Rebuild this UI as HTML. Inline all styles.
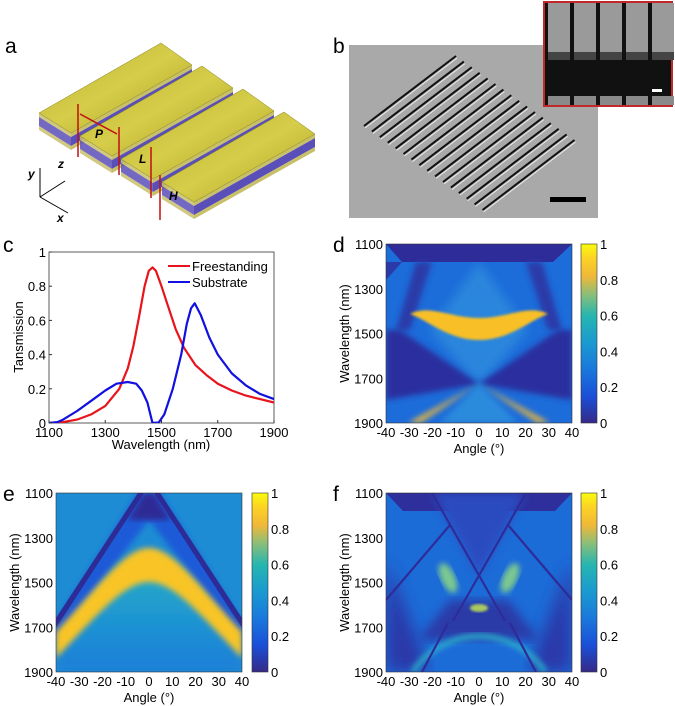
<!DOCTYPE html>
<html><head><meta charset="utf-8"><style>
body{margin:0;background:#fff;}
svg{display:block;font-family:"Liberation Sans",Arial,sans-serif;}
</style></head><body>
<svg id="fig" width="675" height="706" viewBox="0 0 675 706">
<defs>
<linearGradient id="parula" x1="0" y1="1" x2="0" y2="0">
<stop offset="0" stop-color="#352a87"/><stop offset="0.15" stop-color="#1a4fd8"/><stop offset="0.3" stop-color="#1a78dc"/><stop offset="0.45" stop-color="#1a9ad0"/><stop offset="0.6" stop-color="#26b6b0"/><stop offset="0.72" stop-color="#8cbe78"/><stop offset="0.82" stop-color="#f0b838"/><stop offset="0.92" stop-color="#fcd224"/><stop offset="1" stop-color="#f9fb0e"/>
</linearGradient>
<linearGradient id="gold" x1="0" y1="0" x2="1" y2="1"><stop offset="0" stop-color="#b8b030"/><stop offset="0.5" stop-color="#d6cd4a"/><stop offset="1" stop-color="#a89e20"/></linearGradient>
<linearGradient id="egrad" x1="0" y1="0" x2="0" y2="1"><stop offset="0" stop-color="#2ab0c0"/><stop offset="0.5" stop-color="#1f96d2"/><stop offset="1" stop-color="#1c7ed8"/></linearGradient>
<clipPath id="cd"><rect x="386" y="244" width="186" height="179"/></clipPath>
<clipPath id="ce"><rect x="56" y="493" width="186" height="179"/></clipPath>
<clipPath id="cf"><rect x="386" y="493" width="186" height="179"/></clipPath>
<clipPath id="cc"><rect x="49" y="252" width="225" height="171"/></clipPath>
<filter id="blur3"><feGaussianBlur stdDeviation="3"/></filter>
<filter id="blur5"><feGaussianBlur stdDeviation="5"/></filter>
<filter id="blur8"><feGaussianBlur stdDeviation="8"/></filter>
<filter id="blur1"><feGaussianBlur stdDeviation="1.2"/></filter>
</defs>

<g font-size="21" fill="#000">
<text x="5" y="53">a</text>
<text x="333" y="53">b</text>
<text x="3" y="252">c</text>
<text x="333" y="252">d</text>
<text x="3" y="501">e</text>
<text x="333" y="501">f</text>
</g>

<g id="schem"></g>

<g>
<rect x="349" y="45" width="249" height="173" fill="#a9a9a9"/>
<g id="semlines"></g>
<rect x="550" y="197" width="36" height="5" fill="#000"/>
<g>
<rect x="544" y="2" width="128" height="104" fill="#111" stroke="#c0282a" stroke-width="2"/>
<g id="insetcols"></g>
<rect x="652" y="89" width="10" height="3" fill="#fff"/>
</g>
</g>

<g id="pc">
<rect x="49" y="252" width="225" height="171" fill="#fff" stroke="#333" stroke-width="0.8"/>
<g id="cseries" clip-path="url(#cc)"></g>
<g id="caxes" font-size="13"></g>
<g font-size="13">
<line x1="168" y1="266" x2="190" y2="266" stroke="#e8141c" stroke-width="2"/>
<text x="192" y="271">Freestanding</text>
<line x1="168" y1="282" x2="190" y2="282" stroke="#1010e0" stroke-width="2"/>
<text x="192" y="287">Substrate</text>
</g>
<text x="161" y="449" text-anchor="middle" font-size="13">Wavelength (nm)</text>
<text transform="translate(23,337) rotate(-90)" text-anchor="middle" font-size="13">Tansmission</text>
</g>

<g>
<g clip-path="url(#cd)">
<rect x="386" y="244" width="186" height="179" fill="#1c6cda"/>
<polygon points="479,262 430,330 479,385 528,330" fill="#2a86dc" filter="url(#blur5)"/>
<polygon points="386,244 572,244 553,262 402,262" fill="#2e2c98"/>
<polygon points="386,262 402,262 386,280" fill="#2b3aa8"/>
<polygon points="416,262 432,262 410,330 396,330" fill="#2b3aa8" filter="url(#blur3)"/>
<polygon points="542,262 526,262 548,330 562,330" fill="#2b3aa8" filter="url(#blur3)"/>
<polygon points="386,330 400,330 479,384 386,400" fill="#2a2f9e" filter="url(#blur3)"/>
<polygon points="572,330 558,330 479,384 572,400" fill="#2a2f9e" filter="url(#blur3)"/>
<path d="M410,314 C430,304 450,318 479,318 C508,318 528,304 548,314 C530,320 510,340 479,340 C448,340 428,320 410,314 Z" fill="#f8c028" filter="url(#blur1)"/>
<path d="M479,384 L420,423 L408,423 Z" fill="#f0b838" filter="url(#blur3)"/>
<path d="M479,384 L538,423 L550,423 Z" fill="#f0b838" filter="url(#blur3)"/>
<polygon points="479,384 440,423 518,423" fill="#2a8adc" filter="url(#blur3)"/>
</g>
<rect x="386" y="244" width="186" height="179" fill="none" stroke="#333" stroke-width="0.6"/>
</g>

<g>
<g clip-path="url(#ce)">
<rect x="56" y="493" width="186" height="179" fill="#1e8cd4"/>
<path d="M56,630 C100,590 125,560 149,560 C173,560 198,590 242,630 L242,672 L56,672 Z" fill="url(#egrad)" filter="url(#blur5)"/>
<polygon points="138,493 160,493 242,622 242,640 149,520 56,640 56,622" fill="#1a5ad8" filter="url(#blur3)"/>
<path d="M138,493 L56,618 L56,628 L144,493 Z M160,493 L242,618 L242,628 L154,493 Z" fill="#2d2b95"/>
<path d="M144,493 L154,493 L170,520 L128,520 Z" fill="#2d2b95" filter="url(#blur3)"/>
<path d="M56,632 C100,585 125,548 149,548 C173,548 198,585 242,632 L242,658 C198,612 173,582 149,582 C125,582 100,612 56,658 Z" fill="#f8c428" filter="url(#blur3)"/>
</g>
<rect x="56" y="493" width="186" height="179" fill="none" stroke="#333" stroke-width="0.6"/>
</g>

<g>
<g clip-path="url(#cf)">
<rect x="386" y="493" width="186" height="179" fill="#1c6cd8"/>
<polygon points="386,560 386,672 430,672" fill="#2a38a8" filter="url(#blur8)"/>
<polygon points="572,560 572,672 528,672" fill="#2a38a8" filter="url(#blur8)"/>
<polygon points="386,493 572,493 555,511 403,511" fill="#2e2e9c"/>
<polygon points="432,493 526,493 479,576" fill="#2a4cc0" filter="url(#blur5)"/>
<polygon points="450,600 508,600 540,640 418,640" fill="#2a3aa8" filter="url(#blur5)"/>
<path d="M413,672 C430,645 460,636 479,636 C498,636 528,645 545,672" fill="none" stroke="#2ab0c8" stroke-width="5" filter="url(#blur3)"/>
<g stroke-width="2.2" fill="none" stroke="#2e2c98">
<path d="M432,493 L505,621 M526,493 L453,621"/>
<path d="M450,525 L386,600 M508,525 L572,600"/>
<path d="M448,623 L422,672 M510,623 L536,672"/>
</g>
<ellipse cx="448" cy="578" rx="7" ry="16" transform="rotate(-25 448 578)" fill="#7cc890" filter="url(#blur3)"/>
<ellipse cx="510" cy="578" rx="7" ry="16" transform="rotate(25 510 578)" fill="#7cc890" filter="url(#blur3)"/>
<ellipse cx="479" cy="608" rx="9" ry="4" fill="#a8c860" filter="url(#blur1)"/>
</g>
<rect x="386" y="493" width="186" height="179" fill="none" stroke="#333" stroke-width="0.6"/>
</g>

<g id="hmaxes" font-size="13"></g>
</svg>
<script>
var redWl  = [1100,1150,1200,1250,1300,1350,1380,1400,1420,1440,1455,1468,1480,1500,1520,1550,1580,1620,1660,1700,1750,1800,1850,1900];
var redT   = [0,0.005,0.02,0.05,0.1,0.2,0.32,0.45,0.62,0.8,0.89,0.91,0.89,0.8,0.7,0.55,0.44,0.34,0.28,0.23,0.19,0.16,0.14,0.12];
var blueWl = [1100,1130,1150,1200,1250,1300,1340,1380,1410,1430,1450,1462,1468,1490,1510,1540,1570,1590,1605,1618,1640,1670,1700,1750,1800,1850,1900];
var blueT  = [0,0.005,0.02,0.07,0.13,0.19,0.23,0.24,0.23,0.19,0.12,0.04,0,0.003,0.05,0.2,0.4,0.58,0.67,0.70,0.63,0.5,0.4,0.29,0.22,0.17,0.14];
var cXTicks = [1100,1300,1500,1700,1900];
var cYTicks = [0,0.2,0.4,0.6,0.8,1];
var cYLabels = ["0","0.2","0.4","0.6","0.8","1"];
var angleTicks = [-40,-30,-20,-10,0,10,20,30,40];
var wlTicks = [1100,1300,1500,1700,1900];
var cbTicks = [0,0.2,0.4,0.6,0.8,1];
var cbLabels = ["0","0.2","0.4","0.6","0.8","1"];

var NS="http://www.w3.org/2000/svg";
function mk(tag,attrs,parent){var e=document.createElementNS(NS,tag);for(var k in attrs)e.setAttribute(k,attrs[k]);parent.appendChild(e);return e;}
function cx(w){return 49+(w-1100)*225/800;}
function cy(t){return 423-t*171;}

var cs=document.getElementById('cseries');
function line(xs,ys,color,name){
  var d=xs.map(function(w,i){return (i?'L':'M')+cx(w).toFixed(1)+','+cy(ys[i]).toFixed(1);}).join(' ');
  var p=mk('path',{d:d,fill:'none',stroke:color,'stroke-width':2.2,'stroke-linejoin':'round'},cs);
  
  
}
line(redWl,redT,'#e8141c','series-freestanding');
line(blueWl,blueT,'#1010e0','series-substrate');

var ca=document.getElementById('caxes');
cXTicks.forEach(function(w){
  mk('line',{x1:cx(w),y1:423,x2:cx(w),y2:420,stroke:'#333'},ca);
  var t=mk('text',{x:cx(w),y:437,'text-anchor':'middle'},ca);t.textContent=w;
  
  
});
cYTicks.forEach(function(v,i){
  mk('line',{x1:49,y1:cy(v),x2:52,y2:cy(v),stroke:'#333'},ca);
  var t=mk('text',{x:46,y:cy(v)+5,'text-anchor':'end'},ca);t.textContent=cYLabels[i];
  
  
});

var hm=document.getElementById('hmaxes');
function hmAxes(x0,y0,cbx,tag){
  var W=186,H=179;
  angleTicks.forEach(function(a){
    var x=x0+W/2+a*W/80;
    var t=mk('text',{x:x,y:y0+H+14,'text-anchor':'middle'},hm);t.textContent=a;
    
    
  });
  wlTicks.forEach(function(w){
    var y=y0+(w-1100)*H/800;
    var t=mk('text',{x:x0-3,y:y+5,'text-anchor':'end'},hm);t.textContent=w;
    
    
  });
  var at=mk('text',{x:x0+W/2,y:y0+H+30,'text-anchor':'middle'},hm);at.textContent='Angle (°)';
  
  
  var yt=mk('text',{transform:'translate('+(x0-37)+','+(y0+H/2)+') rotate(-90)','text-anchor':'middle'},hm);yt.textContent='Wavelength (nm)';
  
  
  var cb=mk('rect',{x:cbx,y:y0,width:16,height:H,fill:'url(#parula)',stroke:'#333','stroke-width':0.6},hm);
  
  
  cbTicks.forEach(function(v,i){
    var y=y0+H-v*H;
    var t=mk('text',{x:cbx+19,y:y+5},hm);t.textContent=cbLabels[i];
    
    
  });
}
hmAxes(386,244,581,'d');
hmAxes(56,493,252,'e');
hmAxes(386,493,581,'f');

var sc=document.getElementById('schem');
for(var b=0;b<4;b++){
  var dx=b*41,dy=b*23;
  var A=[39+dx,113+dy],B=[161+dx,43+dy],C=[192+dx,65+dy],D=[71+dx,133+dy];
  var th=[[0,4,'#c8c068'],[4,13,'#5a4fb8'],[13,17,'#c8c068']];
  th.forEach(function(l){
    mk('polygon',{points:[D[0],D[1]+l[0],C[0],C[1]+l[0],C[0],C[1]+l[1],D[0],D[1]+l[1]].join(','),fill:l[2]},sc);
    mk('polygon',{points:[A[0],A[1]+l[0],D[0],D[1]+l[0],D[0],D[1]+l[1],A[0],A[1]+l[1]].join(','),fill:l[2],opacity:0.85},sc);
  });
  mk('polygon',{points:[A,B,C,D].map(function(p){return p.join(',');}).join(' '),fill:'url(#gold)',stroke:'#8a8420','stroke-width':0.5},sc);
}
[[78,104,78,157],[119,127,119,175],[151,147,151,198],[160,175,160,220]].forEach(function(l){
  mk('line',{x1:l[0],y1:l[1],x2:l[2],y2:l[3],stroke:'#c01010','stroke-width':1.5},sc);
});
mk('line',{x1:80,y1:114,x2:117,y2:134,stroke:'#c01010','stroke-width':1.5},sc);
[['P',95,138],['L',139,163],['H',169,200],['y',28,178],['z',58,168],['x',57,222]].forEach(function(t){
  var e=mk('text',{x:t[1],y:t[2],'font-size':12,'font-style':'italic','font-weight':'bold'},sc);e.textContent=t[0];
});
mk('path',{d:'M40,197 L40,168 M40,197 L65,181 M40,197 L68,213',stroke:'#000',fill:'none','stroke-width':1},sc);

var sl=document.getElementById('semlines');
for(var i=0;i<16;i++){
  mk('line',{x1:364+i*7.9,y1:126+i*5.6,x2:456+i*7.9,y2:56+i*5.6,stroke:'#111','stroke-width':2},sl);
  mk('line',{x1:365+i*7.9,y1:128+i*5.6,x2:457+i*7.9,y2:58+i*5.6,stroke:'#eee','stroke-width':0.9},sl);
}
var ic=document.getElementById('insetcols');
for(var j=0;j<5;j++){
  mk('rect',{x:548+j*26,y:3,width:22,height:56,fill:'#9a9a9a'},ic);
  mk('rect',{x:548+j*26,y:52,width:22,height:8,fill:'#444'},ic);
  mk('rect',{x:548+j*26,y:96,width:22,height:9,fill:'#8a8a8a'},ic);
}
</script>
</body></html>
